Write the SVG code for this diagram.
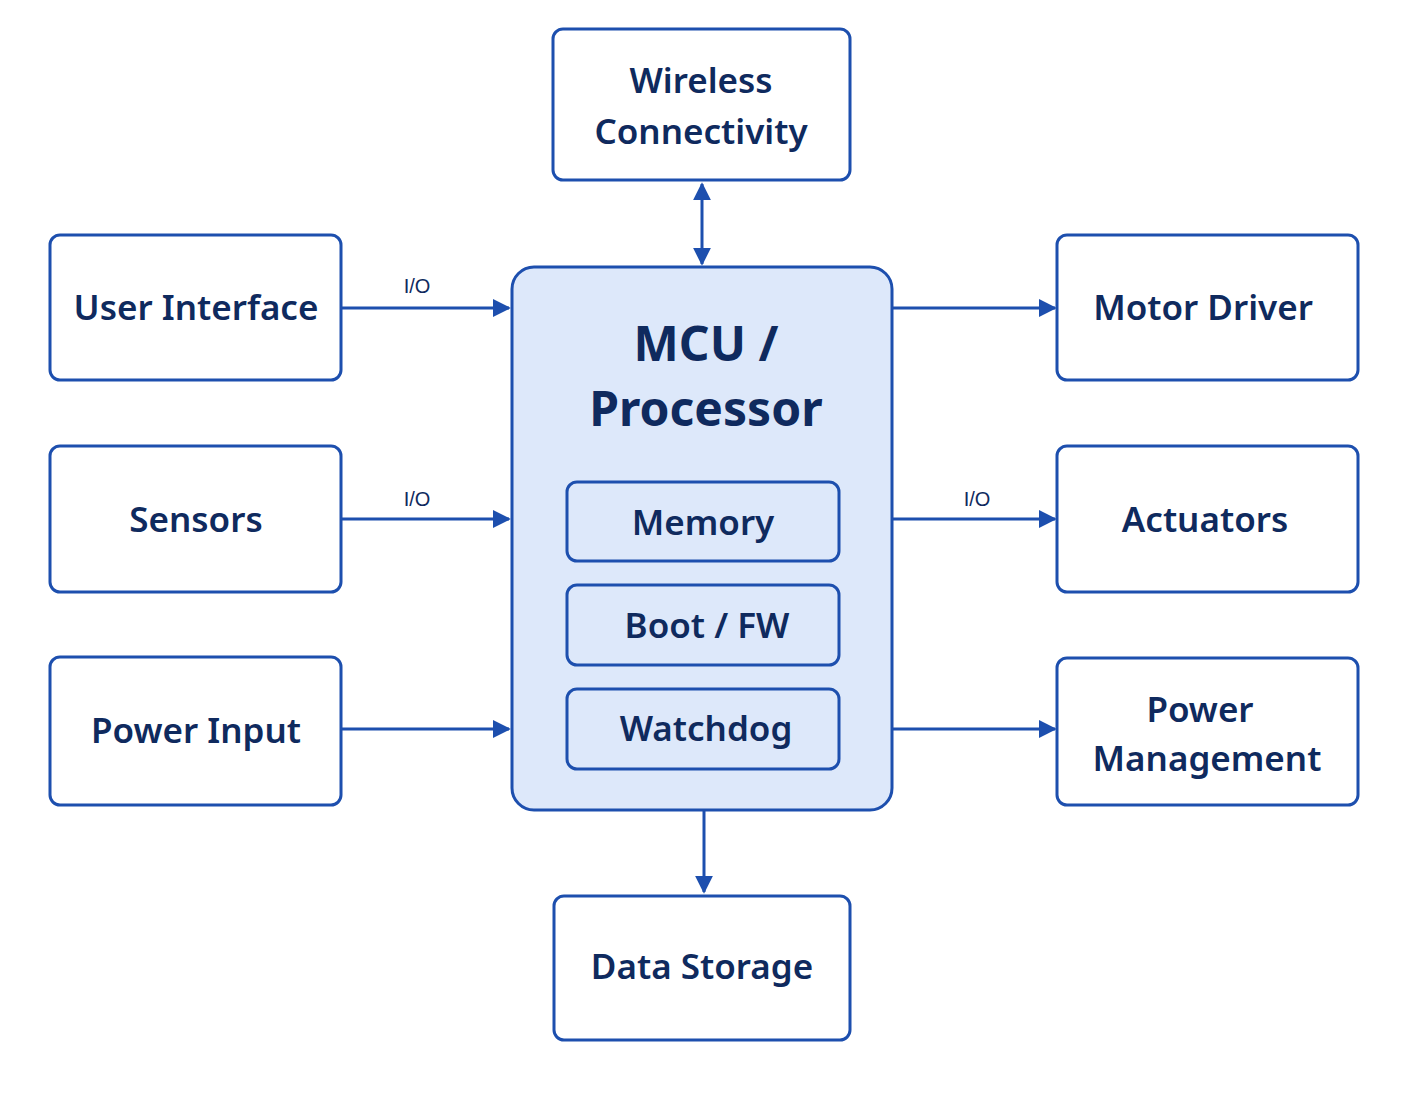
<svg xmlns="http://www.w3.org/2000/svg" width="1413" height="1113" viewBox="0 0 1413 1113">
<defs>
<style>
.box{fill:#fff;stroke:#1d4fae;stroke-width:3}
.mcu{fill:#dde8fa;stroke:#1d4fae;stroke-width:3}
.sub{fill:#dde8fa;stroke:#1d4fae;stroke-width:3}
.t{font-family:"Noto Sans","Liberation Sans",sans-serif;font-weight:600;font-size:35px;fill:#0f2a5e;text-anchor:middle}
.big{font-size:48px;font-weight:700}
.lbl{font-family:"Liberation Sans",sans-serif;font-size:20px;fill:#0f2a5e;text-anchor:middle}
.c{stroke:#1d4fae;stroke-width:3;fill:none}
</style>
<marker id="a" viewBox="0 0 10 10" refX="9" refY="5" markerWidth="6" markerHeight="6" orient="auto-start-reverse"><path d="M0,0L10,5L0,10z" fill="#1d4fae"/></marker>
</defs>
<rect width="1413" height="1113" fill="#fff"/>
<g id="connectors">
<line class="c" x1="702" y1="184" x2="702" y2="264" marker-start="url(#a)" marker-end="url(#a)"/>
<line class="c" x1="341" y1="308" x2="509" y2="308" marker-end="url(#a)"/>
<line class="c" x1="341" y1="519" x2="509" y2="519" marker-end="url(#a)"/>
<line class="c" x1="341" y1="729" x2="509" y2="729" marker-end="url(#a)"/>
<line class="c" x1="892" y1="308" x2="1055" y2="308" marker-end="url(#a)"/>
<line class="c" x1="892" y1="519" x2="1055" y2="519" marker-end="url(#a)"/>
<line class="c" x1="892" y1="729" x2="1055" y2="729" marker-end="url(#a)"/>
<line class="c" x1="704" y1="810" x2="704" y2="892" marker-end="url(#a)"/>
<text class="lbl" x="417" y="293">I/O</text>
<text class="lbl" x="417" y="506">I/O</text>
<text class="lbl" x="977" y="506">I/O</text>
</g>
<g id="wireless"><rect class="box" x="553" y="29" width="297" height="151" rx="10"/><text class="t" x="701" y="93">Wireless</text><text class="t" x="701" y="144">Connectivity</text></g>
<g id="ui"><rect class="box" x="50" y="235" width="291" height="145" rx="10"/><text class="t" x="196" y="320">User Interface</text></g>
<g id="sensors"><rect class="box" x="50" y="446" width="291" height="146" rx="10"/><text class="t" x="196" y="532">Sensors</text></g>
<g id="power-input"><rect class="box" x="50" y="657" width="291" height="148" rx="10"/><text class="t" x="196" y="743">Power Input</text></g>
<g id="mcu"><rect class="mcu" x="512" y="267" width="380" height="543" rx="22"/><text class="t big" x="706" y="361">MCU /</text><text class="t big" x="706" y="426">Processor</text>
<g id="memory"><rect class="sub" x="567" y="482" width="272" height="79" rx="10"/><text class="t" x="703" y="535">Memory</text></g>
<g id="boot"><rect class="sub" x="567" y="585" width="272" height="80" rx="10"/><text class="t" x="707" y="638">Boot / FW</text></g>
<g id="watchdog"><rect class="sub" x="567" y="689" width="272" height="80" rx="10"/><text class="t" x="706" y="741">Watchdog</text></g>
</g>
<g id="motor"><rect class="box" x="1057" y="235" width="301" height="145" rx="10"/><text class="t" x="1203" y="320">Motor Driver</text></g>
<g id="actuators"><rect class="box" x="1057" y="446" width="301" height="146" rx="10"/><text class="t" x="1205" y="532">Actuators</text></g>
<g id="power-mgmt"><rect class="box" x="1057" y="658" width="301" height="147" rx="10"/><text class="t" x="1200" y="722">Power</text><text class="t" x="1207" y="771">Management</text></g>
<g id="storage"><rect class="box" x="554" y="896" width="296" height="144" rx="10"/><text class="t" x="702" y="979">Data Storage</text></g>
</svg>
